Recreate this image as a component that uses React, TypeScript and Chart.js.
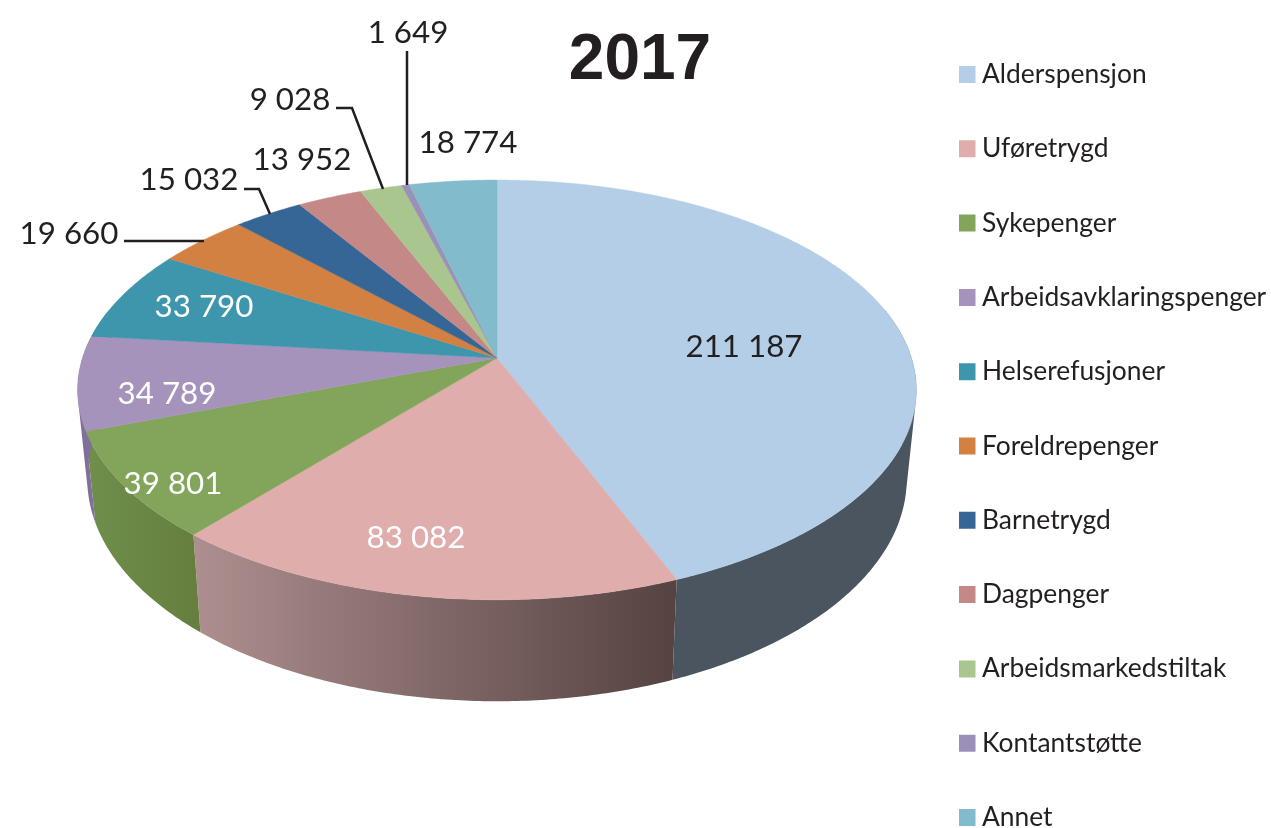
import React, { useEffect, useRef } from "react";
import { Chart, registerables } from "chart.js";

Chart.register(...registerables);

const TITLE = "2017";
const categories = [
  "Alderspensjon", "Uføretrygd", "Sykepenger", "Arbeidsavklaringspenger", "Helserefusjoner",
  "Foreldrepenger", "Barnetrygd", "Dagpenger", "Arbeidsmarkedstiltak", "Kontantstøtte", "Annet",
];
const values = [211187, 83082, 39801, 34789, 33790, 19660, 15032, 13952, 9028, 1649, 18774];
const valueLabels = [
  "211 187", "83 082", "39 801", "34 789", "33 790", "19 660", "15 032", "13 952", "9 028", "1 649", "18 774",
];
const topColors = [
  "#B3CEE6", "#DEADAC", "#82A55B", "#A593BC", "#3E96AC", "#D28143", "#356695", "#C48887", "#A9C68F", "#9B90B8", "#81BBCC",
];
const wallLeft = [
  "#4A5560", "#AE8F8F", "#6F8F4B", "#7F6F99", "#2E7083", "#9C6032", "#274C6F", "#926565", "#7E9469", "#736B89", "#608B98",
];
const wallRight = [
  "#4A5560", "#554241", "#667F3F", "#7F6F99", "#2E7083", "#9C6032", "#274C6F", "#926565", "#7E9469", "#736B89", "#608B98",
];
const labelColors = ["#231F20", "#FFFFFF", "#FFFFFF", "#FFFFFF", "#FFFFFF", "#231F20", "#231F20", "#231F20", "#231F20", "#231F20", "#231F20"];
const labelCenters: [number, number][] = [
  [744, 347], [416, 538], [173, 484], [167, 394], [204, 307], [69, 234], [189, 180], [302, 160], [290, 100], [408, 33], [468, 143],
];
const leaders: [number, number][][] = [
  [[124, 241], [204, 241]],
  [[244, 189], [259, 189], [270, 214]],
  [[336, 108], [352, 108], [383, 189]],
  [[407, 51], [407, 185]],
];

// Perspective projection of the pie disc
const CX = 497, CY = 358, R = 414.5, H = 205, K = -0.152;
const top = (a: number): [number, number] => {
  const u = Math.cos(a), v = Math.sin(a), w = 1 + K * v;
  return [CX + (R * u) / w, CY + (H * v) / w];
};
const low = (a: number): [number, number] => {
  const [x, y] = top(a);
  return [CX + (x - CX) * 0.977, 445 + (y - CY) * 1.06];
};
const samples = (a0: number, a1: number) => {
  const n = Math.max(2, Math.ceil((a1 - a0) / 0.01));
  const out: number[] = [];
  for (let i = 0; i <= n; i++) out.push(a0 + ((a1 - a0) * i) / n);
  return out;
};
const signedArea = (q: [number, number][]) =>
  q.reduce((s, [x, y], i) => {
    const [nx, ny] = q[(i + 1) % q.length];
    return s + x * ny - nx * y;
  }, 0);

const pie3d = {
  id: "pie3d",
  afterLayout(chart: any) {
    const lg = chart.legend;
    const pad = lg.options.labels.padding;
    lg.left = 965.7 - pad;
    lg.right = lg.left + 2000;
    lg.top = 61.3 - pad;
    lg.bottom = 5000;
    const t = chart.titleBlock;
    t.left = 4.5;
    t.right = 1275.5;
  },
  beforeDatasetsDraw(chart: any) {
    const ctx = chart.ctx;
    const arcs = chart.getDatasetMeta(0).data;
    arcs.forEach((arc: any, i: number) => {
      const angles = samples(arc.startAngle, arc.endAngle).filter((a) => Math.sin(a) > -0.25);
      if (angles.length < 2) return;
      const xs = angles.map((a) => top(a)[0]);
      const g = ctx.createLinearGradient(Math.min(...xs), 0, Math.max(...xs), 0);
      g.addColorStop(0, wallLeft[i]);
      g.addColorStop(1, wallRight[i]);
      ctx.fillStyle = g;
      ctx.beginPath();
      for (let k = 0; k + 1 < angles.length; k++) {
        const q = [top(angles[k]), top(angles[k + 1]), low(angles[k + 1]), low(angles[k])];
        if (signedArea(q) < 0) q.reverse();
        q.forEach(([x, y], j) => (j ? ctx.lineTo(x, y) : ctx.moveTo(x, y)));
        ctx.closePath();
      }
      ctx.fill();
    });
    arcs.forEach((arc: any, i: number) => {
      ctx.beginPath();
      ctx.moveTo(CX, CY);
      samples(arc.startAngle, arc.endAngle).map(top).forEach(([x, y]) => ctx.lineTo(x, y));
      ctx.closePath();
      ctx.fillStyle = topColors[i];
      ctx.strokeStyle = topColors[i];
      ctx.lineWidth = 0.5;
      ctx.fill();
      ctx.stroke();
    });
    return false;
  },
  afterDraw(chart: any) {
    const ctx = chart.ctx;
    ctx.save();
    ctx.font = "31.3px Lato";
    ctx.textAlign = "center";
    ctx.textBaseline = "middle";
    valueLabels.forEach((s, i) => {
      ctx.fillStyle = labelColors[i];
      ctx.fillText(s, labelCenters[i][0], labelCenters[i][1]);
    });
    ctx.strokeStyle = "#231F20";
    ctx.lineWidth = 2.5;
    leaders.forEach((line) => {
      ctx.beginPath();
      line.forEach(([x, y], k) => (k ? ctx.lineTo(x, y) : ctx.moveTo(x, y)));
      ctx.stroke();
    });
    ctx.restore();
  },
};

export default function App() {
  const ref = useRef<HTMLCanvasElement>(null);
  useEffect(() => {
    const chart = new Chart(ref.current as HTMLCanvasElement, {
      type: "pie",
      data: {
        labels: categories,
        datasets: [{ data: values, backgroundColor: topColors, borderWidth: 0 }],
      },
      options: {
        animation: false,
        responsive: false,
        devicePixelRatio: 1,
        layout: { padding: 0 },
        plugins: {
          tooltip: { enabled: false },
          title: {
            display: true,
            text: TITLE,
            color: "#231F20",
            font: { family: "'Liberation Sans'", size: 64, weight: "bold", lineHeight: 1 },
            padding: { top: 29, bottom: 0 },
          },
          legend: {
            display: true,
            position: "right",
            align: "start",
            labels: {
              boxWidth: 3.1,
              boxHeight: 3.6,
              padding: 47.9,
              color: "#231F20",
              font: { family: "Lato", size: 26.4 },
              generateLabels: () =>
                categories.map((text, i) => ({
                  text,
                  fillStyle: topColors[i],
                  strokeStyle: topColors[i],
                  lineWidth: 13.4,
                  lineJoin: "miter",
                  hidden: false,
                  index: i,
                  fontColor: "#231F20",
                })),
            },
          },
        },
      },
      plugins: [pie3d],
    } as any);
    return () => chart.destroy();
  }, []);
  return (
    <canvas
      ref={ref}
      width={1271}
      height={828}
      style={{ position: "fixed", left: 0, top: 0, display: "block", width: 1271, height: 828 }}
    />
  );
}
